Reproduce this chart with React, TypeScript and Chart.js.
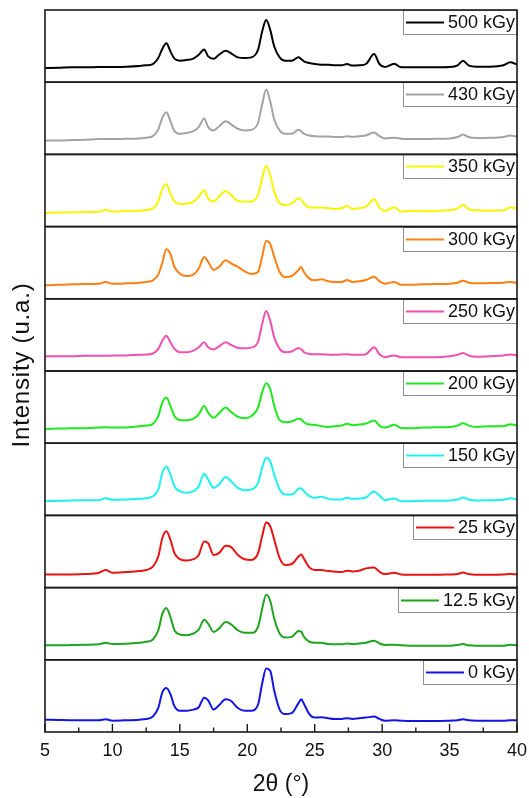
import React, { useEffect, useRef } from 'react';
import { Chart, registerables } from 'chart.js';

Chart.register(...registerables);

const FONT = '"Liberation Sans", Arial, Helvetica, sans-serif';

// 2θ positions (degrees) shared by all patterns
const twoTheta = [5, 6, 7, 8, 9, 9.5, 10, 11, 12, 12.5, 13, 13.4, 13.7, 14.0, 14.3, 14.6, 15, 15.5, 16, 16.4, 16.8, 17.1, 17.5, 17.9, 18.4, 18.8, 19.3, 19.8, 20.3, 20.8, 21.1, 21.4, 21.7, 22.0, 22.4, 22.8, 23.3, 23.8, 24.0, 24.2, 24.6, 25, 25.5, 26, 26.5, 27, 27.4, 27.8, 28.3, 28.8, 29.4, 29.8, 30.2, 30.9, 31.4, 32, 33, 34, 35, 35.6, 36.0, 36.4, 37, 38, 39, 39.5, 40];

// legend labels, bottom panel first
const doseLabels = ['0 kGy', '12.5 kGy', '25 kGy', '150 kGy', '200 kGy', '250 kGy', '300 kGy', '350 kGy', '430 kGy', '500 kGy'];
const lineColors = ['#1414e6', '#1ea51e', '#e81414', '#1ef0f0', '#1ee81e', '#f050b0', '#ff7f12', '#f5f500', '#a3a3a3', '#000000'];

const xMajorTicks = [5, 10, 15, 20, 25, 30, 35, 40];
const xMinorTicks = [7.5, 12.5, 17.5, 22.5, 27.5, 32.5, 37.5];

// intensities (arbitrary units, 0-100 of each panel)
const i0 = [17.1, 16.7, 16.2, 16.2, 16.2, 17.6, 15.7, 16.2, 17.1, 18.1, 21.4, 33.3, 54.8, 61, 52.4, 35.7, 29.5, 29.5, 31, 34.3, 47.6, 43.8, 31, 37.1, 45.2, 42.9, 33.3, 29.5, 29.5, 38.1, 66.7, 88.1, 84.8, 57.1, 31, 24.8, 26.2, 40, 45.2, 39, 24.8, 20, 20.5, 19, 18.1, 18.1, 19, 18.1, 19, 20, 21.4, 18.1, 15.7, 16.2, 15.7, 15.2, 15.2, 15.2, 15.7, 16.2, 17.6, 16.2, 15.7, 15.7, 15.7, 16.2, 16.2];
const i12_5 = [20, 20, 20.5, 20.9, 21.4, 23.6, 21.8, 22.3, 23.6, 25, 28.2, 40.9, 63.6, 71.8, 59.1, 40.9, 35, 34.1, 36.4, 41.8, 55.5, 50, 38.6, 43.2, 52.3, 49.1, 40.9, 37.3, 37.3, 45.5, 70.5, 90, 81.8, 56.8, 36.4, 30.9, 31.8, 40, 39, 31.8, 25, 23.6, 23.6, 21.8, 21.4, 21.4, 22.7, 21.8, 22.7, 23.6, 26.4, 22.7, 20.5, 20.9, 20, 19.5, 19.5, 19.5, 19.5, 20.5, 21.8, 20, 19.5, 19.5, 19.5, 20.9, 20];
const i25 = [18.2, 18.2, 18.2, 18.7, 20.6, 24.3, 20.6, 21.5, 22.9, 24.3, 29, 43, 68.7, 78, 66.4, 47.7, 39.3, 37.4, 39.3, 45.3, 64, 61.7, 45.3, 47.7, 57.9, 56.1, 45.3, 39.3, 38.3, 47.7, 71, 90, 85, 66.4, 40.7, 31.3, 32.7, 43, 45.8, 40, 28, 24.3, 24.3, 22.9, 22, 21.5, 23.4, 22.4, 23.4, 26.6, 28, 22, 18.7, 20.6, 18.2, 17.8, 17.8, 17.8, 18.2, 18.7, 21, 18.7, 17.8, 17.8, 18.2, 18.7, 18.2];
const i150 = [19.7, 20.2, 20.6, 21.1, 21.1, 23.9, 21.6, 22, 22.9, 23.9, 26.6, 35.8, 58.7, 67.9, 56.4, 40.4, 33.5, 31.2, 33.5, 40.4, 57.8, 49.5, 38.1, 42.7, 53.2, 47.2, 38.1, 34.9, 35.8, 45, 65.6, 80, 75, 56.4, 35.8, 28.9, 28.9, 36.7, 37.6, 33.5, 26.6, 24.3, 25.7, 22.9, 22, 22, 24.3, 22.9, 23.4, 24.8, 33, 27.5, 21.1, 23.4, 19.7, 19.7, 20.2, 20.2, 20.6, 22, 24.8, 22, 20.6, 21.1, 21.6, 23.9, 22];
const i200 = [19.7, 20.2, 20.7, 20.7, 21.6, 22.1, 21.6, 21.6, 23.5, 24.4, 26.8, 37.6, 56.3, 63.4, 51.6, 37.6, 31.9, 31.9, 33.8, 39.9, 51.6, 42.3, 35.2, 41.3, 49.3, 43.2, 36.6, 34.7, 37.6, 49.3, 70.4, 83.1, 75.1, 51.6, 31.9, 29.1, 30, 33.8, 33, 29.1, 25.8, 25.4, 23.5, 22.5, 23.5, 24.4, 26.8, 24.9, 25.8, 27.2, 31.5, 24.4, 21.6, 25.4, 21.1, 20.7, 21.6, 22.1, 22.5, 24.4, 27.7, 24.4, 22.5, 23.5, 23.5, 26.3, 24.4];
const i250 = [20.1, 20.5, 20.5, 21, 21, 21, 21.5, 21.5, 22.4, 22.8, 24.2, 30.6, 42, 48.9, 39.7, 30.6, 26, 26, 28.3, 32.9, 39.7, 32.9, 29.7, 34.2, 39.7, 36.1, 32, 31.5, 32.4, 40.6, 64.8, 83.1, 69.4, 46.6, 30.6, 26, 26.9, 32, 30, 26, 23.7, 23.3, 23.3, 22.8, 22.4, 22.8, 23.3, 22.4, 22.4, 23.3, 32.9, 23.3, 19.2, 21.5, 19.2, 19.2, 19.2, 19.2, 20.5, 22.4, 25.1, 21.5, 19.6, 20.5, 21.5, 22.8, 21.5];
const i300 = [18.6, 19.5, 20, 20.5, 20.9, 23.3, 20.9, 21.4, 22.3, 23.3, 25.6, 33.5, 50, 68.5, 62, 44, 34.9, 31.6, 33.5, 41.9, 58, 51, 40, 44, 53.5, 49, 44.2, 38.1, 34.4, 37.2, 58.1, 80, 76, 58, 37.2, 30.2, 31.6, 40, 44.2, 37, 27.9, 25.6, 27, 24.2, 23.3, 23.3, 26, 23.3, 24.2, 26, 30.7, 24.2, 20.9, 23.3, 19.5, 19.5, 20, 20.5, 20.9, 22.3, 25.1, 22.3, 21.4, 21.9, 22.3, 23.3, 21.9];
const i350 = [18.9, 19.4, 19.8, 20.3, 20.7, 23.5, 20.7, 21.7, 22.1, 23, 25.3, 34.6, 52, 58.5, 46, 34.6, 31.3, 31.8, 34.6, 41.5, 50.2, 39.2, 34.6, 41.5, 49.3, 43.8, 35.5, 34.6, 34.6, 44.7, 66.8, 84.3, 71.4, 48.4, 32.3, 30, 32.3, 39.2, 37, 32.3, 26.3, 26.3, 26.3, 25.3, 24.4, 25.3, 28.6, 24.4, 25.3, 27.6, 37.8, 26.3, 21.7, 26.7, 20.7, 21.7, 21.2, 21.7, 22.6, 25.3, 30, 24.4, 22.6, 22.1, 22.6, 26.7, 24.4];
const i430 = [19.4, 19.4, 19.8, 20.3, 21.2, 21.2, 21.2, 21.7, 22.1, 23, 25.3, 34.6, 50.7, 58.5, 46, 32.3, 28.6, 29.5, 32.3, 37.8, 49.8, 37.8, 33.2, 38.7, 46, 41.5, 35.5, 33.2, 34.1, 43.8, 69, 89.9, 73.7, 48.4, 33.2, 28.6, 28.6, 34.1, 32, 28.6, 26.3, 25.3, 24.9, 24.9, 24, 24, 25.3, 24.4, 25.3, 26.3, 30.4, 25.3, 22.1, 23, 21.7, 21.2, 21.2, 21.7, 22.1, 24, 27.6, 24, 22.6, 23, 24, 26.3, 24.4];
const i500 = [19.7, 20, 20.6, 20.6, 21, 21, 21, 21.5, 22.5, 23.4, 25.2, 33.5, 46.3, 54, 42.7, 32.6, 29.8, 30.7, 32.6, 38, 45.4, 35.8, 32.6, 38, 43.6, 40, 34.4, 33.5, 34.4, 45, 70, 86, 72.5, 49.5, 34.4, 29.8, 29.8, 34.4, 32, 28.9, 26.6, 25.2, 24.3, 24.3, 23.4, 23.4, 25.2, 23, 23.4, 25.2, 39, 25.2, 21, 25.7, 20.6, 20.6, 20.6, 20.6, 21, 23.4, 29.8, 23.4, 21.5, 21.5, 23.4, 27.5, 24.3];

const seriesValues = [i0, i12_5, i25, i150, i200, i250, i300, i350, i430, i500];

const panelsPlugin = {
  id: 'panelsDecor',
  afterDatasetsDraw(chart: any) {
    const { ctx, chartArea, scales } = chart;
    ctx.save();
    // legend boxes
    chart.data.datasets.forEach((ds: any, k: number) => {
      const ys = scales['y' + k];
      ctx.font = `18px ${FONT}`;
      const tw = ctx.measureText(ds.label).width;
      const bw = Math.round(tw + 47);
      const bh = 24;
      const bx = Math.round(chartArea.right - bw);
      const by = Math.round(ys.top);
      ctx.fillStyle = '#ffffff';
      ctx.fillRect(bx, by, bw, bh);
      ctx.strokeStyle = '#8f8f8f';
      ctx.lineWidth = 1;
      ctx.strokeRect(bx + 0.5, by + 0.5, bw, bh);
      ctx.strokeStyle = ds.borderColor;
      ctx.lineWidth = 2;
      ctx.beginPath();
      ctx.moveTo(bx + 3, by + bh / 2 + 0.5);
      ctx.lineTo(bx + 41, by + bh / 2 + 0.5);
      ctx.stroke();
      ctx.fillStyle = '#111111';
      ctx.textAlign = 'left';
      ctx.textBaseline = 'middle';
      ctx.fillText(ds.label, bx + 45, by + bh / 2 + 1);
    });
    // panel frames
    ctx.strokeStyle = '#1a1a1a';
    ctx.lineWidth = 1.6;
    chart.data.datasets.forEach((_ds: any, k: number) => {
      const ys = scales['y' + k];
      ctx.strokeRect(chartArea.left, ys.top, chartArea.right - chartArea.left, ys.bottom - ys.top);
    });
    // inward ticks on the bottom axis
    const xs = scales.x;
    const yb = chartArea.bottom;
    ctx.lineWidth = 1.4;
    ctx.beginPath();
    xMajorTicks.forEach((v) => {
      const px = xs.getPixelForValue(v);
      ctx.moveTo(px, yb);
      ctx.lineTo(px, yb - 8);
    });
    xMinorTicks.forEach((v) => {
      const px = xs.getPixelForValue(v);
      ctx.moveTo(px, yb);
      ctx.lineTo(px, yb - 4.5);
    });
    ctx.stroke();
    // y axis title
    ctx.translate(22, (chartArea.top + chartArea.bottom) / 2 - 6);
    ctx.rotate(-Math.PI / 2);
    ctx.font = `24px ${FONT}`;
    try {
      ctx.letterSpacing = '0.8px';
    } catch (e) {
      /* ignore */
    }
    ctx.fillStyle = '#111111';
    ctx.textAlign = 'center';
    ctx.textBaseline = 'middle';
    ctx.fillText('Intensity (u.a.)', 0, 0);
    ctx.restore();
  },
};

export default function App() {
  const canvasRef = useRef<HTMLCanvasElement | null>(null);

  useEffect(() => {
    document.body.style.margin = '0';
    const canvas = canvasRef.current;
    if (!canvas) return;

    const yScales: any = {};
    seriesValues.forEach((_v, k) => {
      yScales['y' + k] = {
        type: 'linear',
        min: 0,
        max: 100,
        stack: 'panels',
        stackWeight: 1,
        position: 'left',
        display: false,
        offset: false,
      };
    });

    const chart = new Chart(canvas, {
      type: 'line',
      data: {
        datasets: seriesValues.map((vals, k) => ({
          label: doseLabels[k],
          data: twoTheta.map((x, i) => ({ x, y: vals[i] })),
          yAxisID: 'y' + k,
          borderColor: lineColors[k],
          backgroundColor: lineColors[k],
          borderWidth: 2,
          pointRadius: 0,
          fill: false,
          cubicInterpolationMode: 'monotone',
        })),
      },
      options: {
        responsive: false,
        animation: false,
        layout: { padding: { left: 45, right: 12, top: 10, bottom: 0 } },
        plugins: { legend: { display: false }, tooltip: { enabled: false } },
        scales: {
          x: {
            type: 'linear',
            position: 'bottom',
            min: 5,
            max: 40,
            grid: { display: false, drawTicks: false },
            border: { display: false },
            afterBuildTicks: (scale: any) => {
              scale.ticks = xMajorTicks.map((v) => ({ value: v }));
            },
            afterFit: (scale: any) => {
              scale.height = 66;
              scale.paddingLeft = 0;
              scale.paddingRight = 0;
            },
            ticks: {
              autoSkip: false,
              maxRotation: 0,
              padding: 8,
              color: '#111111',
              font: { family: FONT, size: 18 },
              callback: (v: any) => String(v),
            },
            title: {
              display: true,
              text: '2θ (°)',
              color: '#111111',
              font: { family: FONT, size: 23 },
              padding: { top: 9, bottom: 0 },
            },
          },
          ...yScales,
        },
      } as any,
      plugins: [panelsPlugin],
    });

    return () => chart.destroy();
  }, []);

  return (
    <div style={{ width: 529, height: 798 }}>
      <canvas ref={canvasRef} width={529} height={798} style={{ display: 'block' }} />
    </div>
  );
}
